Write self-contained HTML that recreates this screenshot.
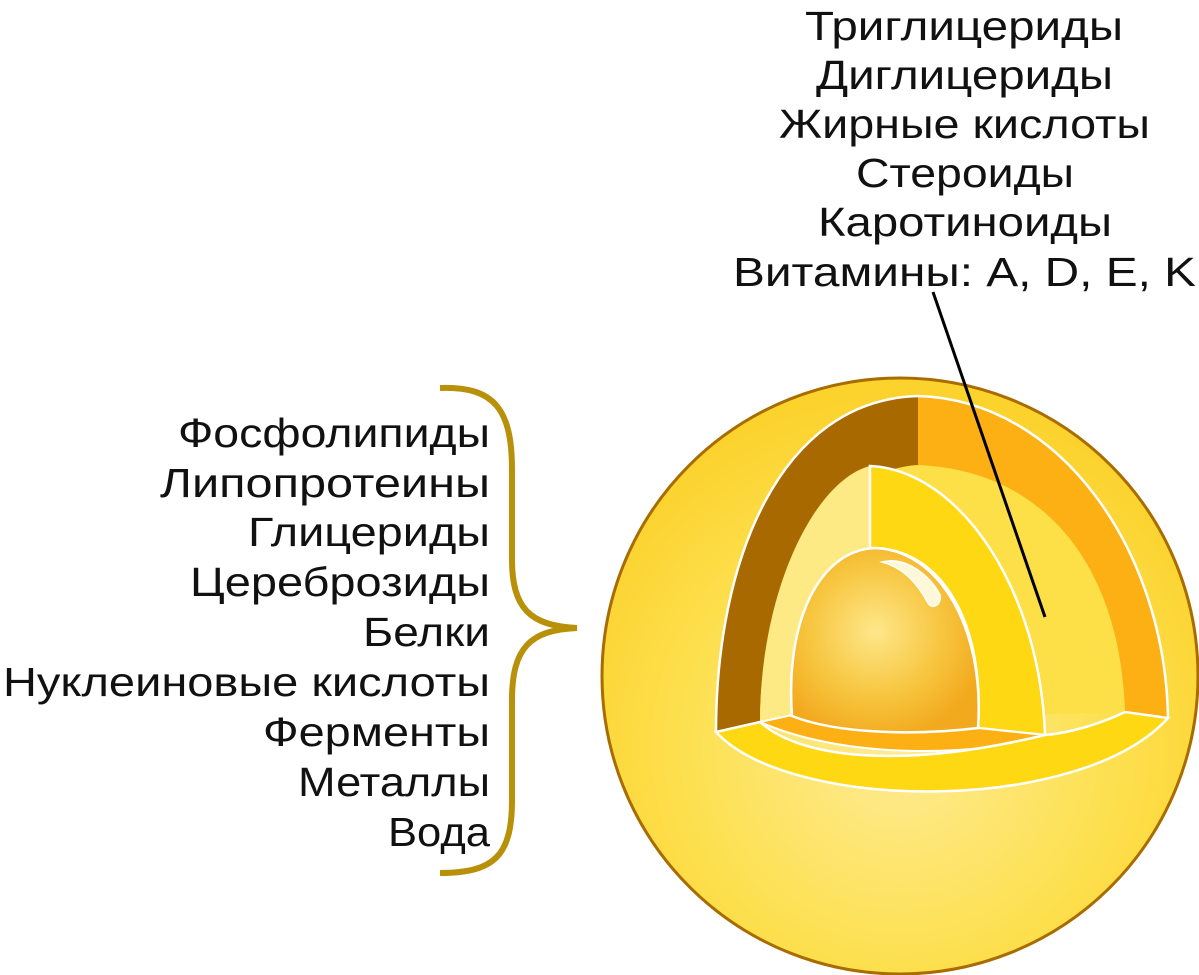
<!DOCTYPE html>
<html><head><meta charset="utf-8"><style>html,body{margin:0;padding:0;background:#fff}svg{display:block}</style></head>
<body>
<svg width="1199" height="975" viewBox="0 0 1199 975" xmlns="http://www.w3.org/2000/svg">
<defs>
<radialGradient id="sph" cx="0.5" cy="0.62" r="0.6">
<stop offset="0" stop-color="#feeb95"/><stop offset="0.6" stop-color="#fde050"/><stop offset="1" stop-color="#fcd22c"/>
</radialGradient>
<radialGradient id="nuc" cx="0.45" cy="0.45" r="0.6">
<stop offset="0" stop-color="#fee78a"/><stop offset="0.6" stop-color="#f7c53e"/><stop offset="1" stop-color="#f2a91e"/>
</radialGradient>
</defs>
<g font-family="Liberation Sans, sans-serif" font-size="41" fill="#111">
<text x="805" y="40" textLength="318" lengthAdjust="spacingAndGlyphs">Триглицериды</text>
<text x="816" y="89" textLength="297" lengthAdjust="spacingAndGlyphs">Диглицериды</text>
<text x="779" y="138" textLength="371" lengthAdjust="spacingAndGlyphs">Жирные кислоты</text>
<text x="856" y="187" textLength="218" lengthAdjust="spacingAndGlyphs">Стероиды</text>
<text x="818" y="236" textLength="294" lengthAdjust="spacingAndGlyphs">Каротиноиды</text>
<text x="733" y="286" textLength="463" lengthAdjust="spacingAndGlyphs">Витамины: A, D, E, K</text>
<g text-anchor="end">
<text x="490" y="447" textLength="312" lengthAdjust="spacingAndGlyphs">Фосфолипиды</text>
<text x="490" y="497" textLength="330" lengthAdjust="spacingAndGlyphs">Липопротеины</text>
<text x="490" y="546" textLength="242" lengthAdjust="spacingAndGlyphs">Глицериды</text>
<text x="490" y="596" textLength="300" lengthAdjust="spacingAndGlyphs">Цереброзиды</text>
<text x="490" y="646" textLength="127" lengthAdjust="spacingAndGlyphs">Белки</text>
<text x="490" y="696" textLength="487" lengthAdjust="spacingAndGlyphs">Нуклеиновые кислоты</text>
<text x="490" y="746" textLength="227" lengthAdjust="spacingAndGlyphs">Ферменты</text>
<text x="490" y="796" textLength="192" lengthAdjust="spacingAndGlyphs">Металлы</text>
<text x="490" y="846" textLength="102" lengthAdjust="spacingAndGlyphs">Вода</text>
</g>
</g>
<path d="M440,388 C495,386 512,410 512,470 L512,560 C512,608 530,626 577,628 C530,630 512,648 512,700 L512,800 C512,855 495,873 440,873" fill="none" stroke="#b8900a" stroke-width="6"/>
<circle cx="900" cy="676" r="298" fill="url(#sph)" stroke="#a86c00" stroke-width="3"/>
<path d="M716,732 C716,560 780,400 918,396 C1060,400 1165,550 1168,718 L1125,712 L760,722 Z" fill="#fde048"/>
<path d="M716,732 C716,560 780,400 918,396 L918,465 C830,470 760,580 760,722 Z" fill="#a86a00"/>
<path d="M918,396 C1060,400 1165,550 1168,718 L1125,712 C1120,560 1040,470 918,465 Z" fill="#fdb013"/>
<path d="M760,722 C760,590 815,480 870,466 L870,722 Z" fill="#feea85"/>
<path d="M870,466 C960,470 1040,590 1045,735 L978,728 C985,620 940,550 875,548 L870,548 Z" fill="#fdd813" stroke="#fff" stroke-width="2.5"/>
<path d="M760,722 L792,715 C840,735 920,735 978,728 L1045,735 C990,755 850,762 760,722 Z" fill="#fdb013" stroke="#fff" stroke-width="2"/>
<path d="M792,716 C785,620 820,550 875,548 C940,550 985,630 978,728 C920,735 840,735 792,716 Z" fill="url(#nuc)" stroke="#fff" stroke-width="2.5"/>
<path d="M882,562 C905,556 930,575 940,595 C942,605 932,610 928,603 C918,585 905,568 882,562 Z" fill="#fff8d8" stroke="#fff" stroke-width="1.5"/>
<path d="M716,732 C790,812 1080,815 1168,718 L1125,712 C1100,724 1070,733 1045,735 C900,770 800,758 760,722 Z" fill="#fdd813" stroke="#fff" stroke-width="2.5"/>
<path d="M716,732 C716,560 780,400 918,396 C1060,400 1165,550 1168,718" fill="none" stroke="#fff" stroke-width="2.5"/>
<line x1="933" y1="292" x2="1045" y2="617" stroke="#000" stroke-width="3"/>
</svg>
</body></html>
